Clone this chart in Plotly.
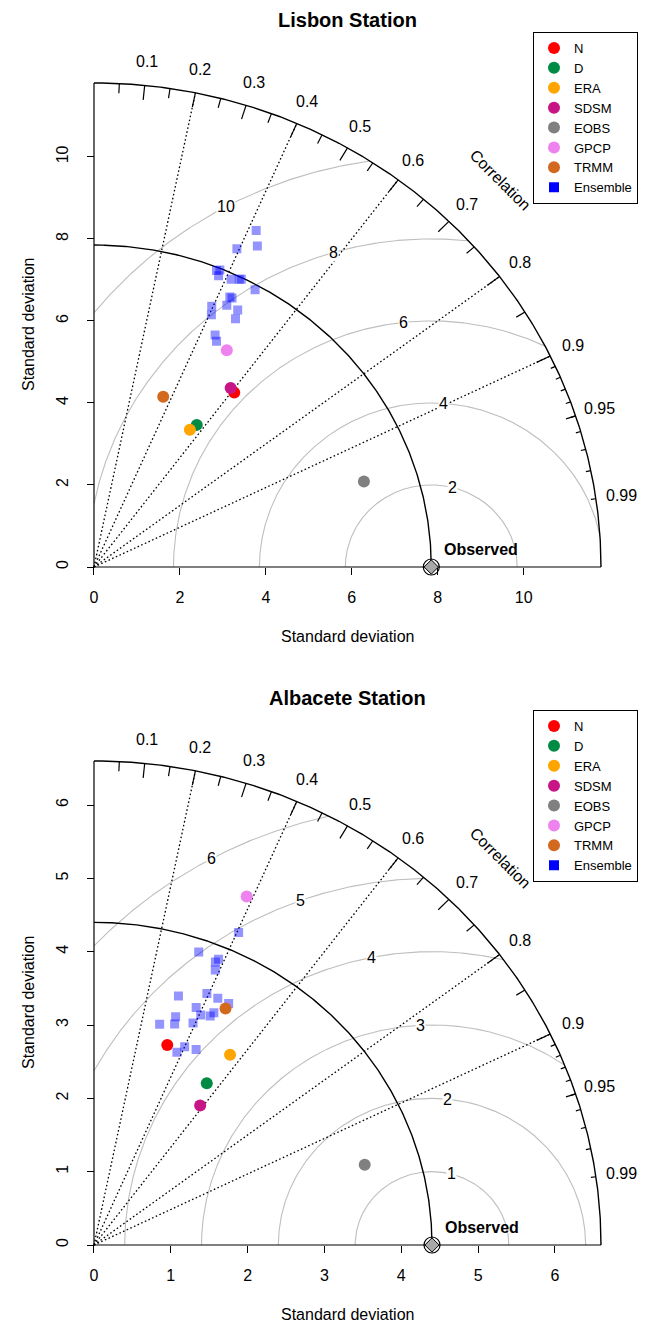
import numpy as np
import plotly.graph_objects as go

W, H = 646, 1324
FONT = "Liberation Sans, Arial, Helvetica, sans-serif"

# ---------------- data ----------------
model_names = ["N", "D", "ERA", "SDSM", "EOBS", "GPCP", "TRMM"]
model_colors = ["#FF0000", "#008B45", "#FFA500", "#C71585", "#808080", "#EE82EE", "#D2691E"]
ensemble_color = "rgba(0,0,255,0.42)"

# Lisbon station
lisbon_sd = [5.36, 4.21, 4.02, 5.40, 6.62, 6.12, 4.45]
lisbon_cor = [0.609, 0.568, 0.555, 0.589, 0.949, 0.505, 0.362]
lisbon_ens_sd = [9.03, 8.70, 8.44, 7.77, 7.81, 7.67, 7.71, 7.79, 7.81, 7.73,
                 7.30, 7.30, 6.92, 7.09, 7.10, 6.73, 6.89, 6.32, 6.20]
lisbon_ens_cor = [0.418, 0.437, 0.394, 0.367, 0.375, 0.378, 0.414, 0.434, 0.439, 0.485,
                  0.433, 0.440, 0.396, 0.436, 0.471, 0.406, 0.478, 0.446, 0.460]
lisbon_ref_sd = 7.85
lisbon_max_sd = 11.8
lisbon_gamma = [2, 4, 6, 8, 10]
lisbon_sd_ticks = [0, 2, 4, 6, 8, 10]

# Albacete station
albacete_sd = [2.89, 2.65, 3.14, 2.35, 3.69, 5.15, 3.65]
albacete_cor = [0.330, 0.554, 0.564, 0.588, 0.955, 0.386, 0.469]
albacete_ens_sd = [4.66, 4.22, 4.22, 4.17, 4.07, 3.57, 3.73, 3.73, 3.73, 3.50,
                   3.43, 3.47, 3.53, 3.29, 3.19, 3.29, 3.13, 2.84, 2.95, 2.98]
albacete_ens_cor = [0.404, 0.323, 0.384, 0.379, 0.388, 0.308, 0.394, 0.432, 0.470, 0.380,
                    0.405, 0.436, 0.442, 0.323, 0.329, 0.392, 0.273, 0.380, 0.400, 0.446]
albacete_ref_sd = 4.4
albacete_max_sd = 6.6
albacete_gamma = [1, 2, 3, 4, 5, 6]
albacete_sd_ticks = [0, 1, 2, 3, 4, 5, 6]

# correlation axis
corr_tick_labels = [0.1, 0.2, 0.3, 0.4, 0.5, 0.6, 0.7, 0.8, 0.9, 0.95, 0.99]
corr_big_ticks = [0.1, 0.2, 0.3, 0.4, 0.5, 0.6, 0.7, 0.8, 0.9]
corr_med_ticks = [0.05, 0.15, 0.25, 0.35, 0.45, 0.55, 0.65, 0.75, 0.85, 0.95]
corr_small_ticks = [0.91, 0.92, 0.93, 0.94, 0.95, 0.96, 0.97, 0.98, 0.99]
corr_lines = [0.2, 0.4, 0.6, 0.8, 0.9]

titles = ["Lisbon Station", "Albacete Station"]

# ---------------- layout geometry (pixels) ----------------
X0_PX = 94          # pixel column of sd = 0
BOX_W = 507         # pixels from 0 to max sd (horizontal)
BOX_H = 484         # pixels from 0 to max sd (vertical)
PANEL_Y0 = [567, 1245]   # pixel row of sd = 0 for each panel
LEGEND_TOP = [32, 710]
LEGEND_LEFT = 533


def to_xy(sd, cor):
    sd = np.asarray(sd, float)
    cor = np.asarray(cor, float)
    return sd * cor, sd * np.sqrt(1 - cor ** 2)


fig = go.Figure()
annotations = []
layout_axes = {}


def add_panel(p, sd, cor, ens_sd, ens_cor, ref_sd, max_sd, gamma, sd_ticks, title):
    xa = "x" if p == 0 else "x2"
    ya = "y" if p == 0 else "y2"
    xkey = "xaxis" if p == 0 else "xaxis2"
    ykey = "yaxis" if p == 0 else "yaxis2"
    legend_id = "legend" if p == 0 else "legend2"

    lo = 0.012 * max_sd
    hi = 1.08 * max_sd
    kx = BOX_W / max_sd
    ky = BOX_H / max_sd
    y0 = PANEL_Y0[p]
    dom_x = [(X0_PX - lo * kx) / W, min(1.0, (X0_PX + hi * kx) / W)]
    dom_y = [(H - y0 - lo * ky) / H, min(1.0, (H - y0 + hi * ky) / H)]

    common = dict(showgrid=False, zeroline=False, showline=False,
                  ticks="outside", ticklen=7, tickwidth=1, tickcolor="black",
                  tickfont=dict(family=FONT, size=16, color="black"),
                  anchor="free", fixedrange=True)
    layout_axes[xkey] = dict(common, domain=dom_x, range=[-lo, hi],
                             tickvals=sd_ticks, ticktext=[str(t) for t in sd_ticks],
                             position=(H - y0) / H, ticklabelstandoff=9)
    layout_axes[ykey] = dict(common, domain=dom_y, range=[-lo, hi],
                             tickvals=sd_ticks, ticktext=[str(t) for t in sd_ticks],
                             position=X0_PX / W, tickangle=-90, ticklabelstandoff=13)

    def line(xs, ys, color, width, dash="solid"):
        fig.add_trace(go.Scatter(x=xs, y=ys, xaxis=xa, yaxis=ya, mode="lines",
                                 line=dict(color=color, width=width, dash=dash),
                                 hoverinfo="skip", showlegend=False))

    # gamma (centred RMS difference) arcs
    t = np.arange(0, np.pi, 0.002)
    labelpos = np.floor(np.linspace(45, 70, len(gamma))).astype(int)
    for gi, g in enumerate(gamma):
        xc = np.cos(t) * g + ref_sd
        yc = np.sin(t) * g
        keep = (xc >= 0) & (xc ** 2 + yc ** 2 <= max_sd ** 2)
        line(np.where(keep, xc, None), np.where(keep, yc, None), "#BEBEBE", 1.1)
        ang = (labelpos[gi] - 1) * 0.03
        lx = np.cos(ang) * g + ref_sd
        ly = np.sin(ang) * g
        if lx > 0:
            annotations.append(dict(x=lx, y=ly, xref=xa, yref=ya, text=str(g), showarrow=False,
                                    xanchor="center", yanchor="middle",
                                    font=dict(family=FONT, size=16, color="black"),
                                    bgcolor="white", borderpad=0))

    # correlation radial dotted lines
    xs, ys = [], []
    for c in corr_lines:
        xs += [0, max_sd * c, None]
        ys += [0, max_sd * np.sqrt(1 - c ** 2), None]
    line(xs, ys, "black", 1.3, dash="1.6px,2.4px")

    # reference sd arc and outer arc
    th = np.linspace(0, np.pi / 2, 300)
    line(np.cos(th) * ref_sd, np.sin(th) * ref_sd, "black", 1.4)
    line(np.cos(th) * max_sd, np.sin(th) * max_sd, "black", 1.4)

    # correlation ticks on the outer arc
    xs, ys = [], []
    for ticks, f in [(corr_big_ticks, 0.97), (corr_med_ticks, 0.98), (corr_small_ticks, 0.99)]:
        for c in ticks:
            a = np.arccos(c)
            xs += [np.cos(a) * max_sd, np.cos(a) * f * max_sd, None]
            ys += [np.sin(a) * max_sd, np.sin(a) * f * max_sd, None]
    line(xs, ys, "black", 1.2)

    # axis lines
    line([0, max_sd], [0, 0], "black", 1.2)
    line([0, 0], [0, max_sd], "black", 1.2)

    # correlation labels
    for c in corr_tick_labels:
        a = np.arccos(c)
        annotations.append(dict(x=np.cos(a) * 1.05 * max_sd, y=np.sin(a) * 1.05 * max_sd,
                                xref=xa, yref=ya, text=str(c), showarrow=False,
                                xanchor="center", yanchor="middle",
                                font=dict(family=FONT, size=16, color="black")))
    annotations.append(dict(x=0.8 * max_sd, y=0.8 * max_sd, xref=xa, yref=ya,
                            text="Correlation", textangle=45, showarrow=False,
                            xanchor="center", yanchor="middle",
                            font=dict(family=FONT, size=16, color="black")))

    # ensemble members
    ex, ey = to_xy(ens_sd, ens_cor)
    fig.add_trace(go.Scatter(x=ex, y=ey, xaxis=xa, yaxis=ya, mode="markers",
                             marker=dict(symbol="square", size=9, color=ensemble_color,
                                         line=dict(width=0)),
                             name="Ensemble", showlegend=False, hoverinfo="skip"))

    # models
    mx, my = to_xy(sd, cor)
    for i, nm in enumerate(model_names):
        fig.add_trace(go.Scatter(x=[mx[i]], y=[my[i]], xaxis=xa, yaxis=ya, mode="markers",
                                 marker=dict(symbol="circle", size=12, color=model_colors[i],
                                             line=dict(width=0)),
                                 name=nm, legend=legend_id, legendrank=i + 1,
                                 showlegend=True))
    # legend entry for the ensemble (solid blue square)
    fig.add_trace(go.Scatter(x=[None], y=[None], xaxis=xa, yaxis=ya, mode="markers",
                             marker=dict(symbol="square", size=10, color="#0000FF"),
                             name="Ensemble", legend=legend_id, legendrank=8,
                             showlegend=True))

    # observed reference point
    fig.add_trace(go.Scatter(x=[ref_sd], y=[0], xaxis=xa, yaxis=ya, mode="markers",
                             marker=dict(symbol="circle-open", size=16, color="black",
                                         line=dict(width=1.2, color="black")),
                             showlegend=False, hoverinfo="skip", cliponaxis=False))
    fig.add_trace(go.Scatter(x=[ref_sd], y=[0], xaxis=xa, yaxis=ya, mode="markers",
                             marker=dict(symbol="diamond", size=11, color="#A8A8A8",
                                         line=dict(width=1, color="black")),
                             showlegend=False, hoverinfo="skip", cliponaxis=False))
    annotations.append(dict(x=ref_sd, y=0, xref=xa, yref=ya, text="<b>Observed</b>",
                            showarrow=False, xanchor="left", yanchor="middle",
                            xshift=11, yshift=18,
                            font=dict(family=FONT, size=16, color="black")))

    # titles
    cx = (X0_PX + BOX_W / 2) / W
    annotations.append(dict(x=cx, y=1 - (y0 - BOX_H - 63) / H, xref="paper", yref="paper",
                            text="<b>%s</b>" % title, showarrow=False,
                            xanchor="center", yanchor="middle",
                            font=dict(family=FONT, size=20, color="black")))
    annotations.append(dict(x=cx, y=1 - (y0 + 69) / H, xref="paper", yref="paper",
                            text="Standard deviation", showarrow=False,
                            xanchor="center", yanchor="middle",
                            font=dict(family=FONT, size=16, color="black")))
    annotations.append(dict(x=28 / W, y=1 - (y0 - BOX_H / 2) / H, xref="paper", yref="paper",
                            text="Standard deviation", textangle=-90, showarrow=False,
                            xanchor="center", yanchor="middle",
                            font=dict(family=FONT, size=16, color="black")))

    layout_axes[legend_id] = dict(x=LEGEND_LEFT / W, y=1 - LEGEND_TOP[p] / H,
                                  xanchor="left", yanchor="top",
                                  bordercolor="black", borderwidth=1, bgcolor="white",
                                  font=dict(family=FONT, size=13, color="black"),
                                  itemsizing="trace", tracegroupgap=0, itemwidth=30)


add_panel(0, lisbon_sd, lisbon_cor, lisbon_ens_sd, lisbon_ens_cor,
          lisbon_ref_sd, lisbon_max_sd, lisbon_gamma, lisbon_sd_ticks, titles[0])
add_panel(1, albacete_sd, albacete_cor, albacete_ens_sd, albacete_ens_cor,
          albacete_ref_sd, albacete_max_sd, albacete_gamma, albacete_sd_ticks, titles[1])

fig.update_layout(width=W, height=H, margin=dict(l=0, r=0, t=0, b=0),
                  paper_bgcolor="white", plot_bgcolor="rgba(0,0,0,0)",
                  annotations=annotations, showlegend=True, **layout_axes)

fig.write_html("out.html", config={"displayModeBar": False},
               post_script="document.body.style.margin='0px';document.body.style.padding='0px';")
